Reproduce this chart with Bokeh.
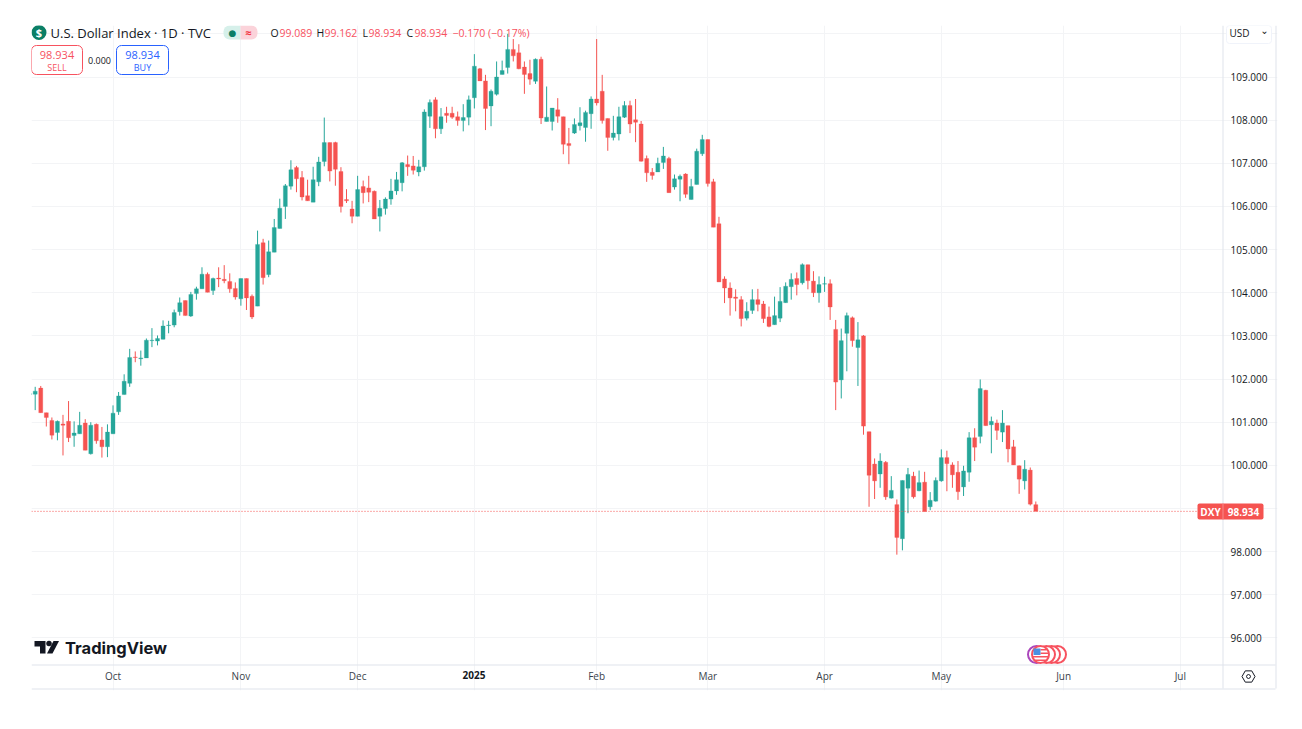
from bokeh.plotting import figure
from bokeh.embed import file_html
from bokeh.resources import INLINE
from bokeh.models import (Label, BoxAnnotation, PolyAnnotation, FixedTicker,
                          Grid, LinearAxis, ColumnDataSource, NumeralTickFormatter)
import math

opens = [101.63,101.65,101.79,101.22,101.04,100.76,100.96,101.02,100.69,100.73,
 100.98,100.27,100.95,100.59,100.43,100.73,101.24,101.64,101.90,102.51,
 102.47,102.49,102.89,102.88,102.92,103.24,103.25,103.56,103.82,103.46,
 103.98,104.09,104.43,104.05,104.34,104.31,104.26,104.10,103.86,104.33,
 103.92,103.69,105.16,104.42,104.94,105.49,106.00,106.47,106.90,106.67,
 106.25,106.10,106.57,107.04,107.48,107.48,106.81,106.16,105.94,105.77,
 106.46,106.43,106.35,105.77,105.95,106.17,106.36,106.55,106.97,106.94,
 106.80,106.92,108.09,108.47,107.80,108.16,108.16,108.08,107.99,108.07,
 108.52,109.19,108.91,108.33,108.60,109.06,109.22,109.64,109.56,109.23,
 109.08,108.90,109.41,107.97,107.97,108.24,108.08,107.46,107.70,107.87,
 107.83,108.15,108.49,108.67,108.04,107.60,107.68,108.07,108.34,108.01,
 107.91,107.11,106.79,106.80,107.02,107.11,106.45,106.63,106.75,106.16,
 106.51,107.22,107.55,106.57,105.60,104.32,104.11,103.90,103.84,103.41,
 103.59,103.84,103.74,103.44,103.26,103.41,103.77,104.14,104.33,104.23,
 104.65,104.27,104.00,104.20,104.21,103.15,101.98,103.06,103.42,102.73,
 103.00,100.78,100.03,99.80,100.07,99.24,99.09,98.30,99.47,99.75,
 99.41,99.61,99.04,99.17,99.64,100.18,100.01,99.84,99.50,99.84,
 100.64,100.67,101.74,100.94,100.98,100.77,100.92,100.43,99.99,99.64,
 99.89,99.089]
highs = [101.68,101.82,101.84,101.22,101.11,101.04,101.17,101.49,101.02,101.24,
 101.07,101.00,100.97,100.89,100.95,101.39,101.70,102.11,102.70,102.64,
 102.66,102.94,103.18,103.01,103.36,103.35,103.61,103.89,103.82,104.02,
 104.14,104.59,104.47,104.35,104.59,104.64,104.45,104.24,104.33,104.33,
 103.96,105.44,105.25,105.21,105.71,106.18,106.52,107.07,106.94,106.82,
 106.62,106.92,107.15,108.06,107.48,107.50,106.91,106.40,106.13,106.71,
 106.60,106.71,106.37,106.15,106.21,106.64,106.80,107.03,107.18,107.17,
 107.08,108.25,108.48,108.53,108.28,108.31,108.31,108.20,108.37,108.57,
 109.53,109.21,109.05,108.71,109.36,109.38,110.00,109.88,109.76,109.36,
 109.40,109.43,109.47,108.78,108.28,108.51,108.08,107.82,108.04,108.30,
 108.22,108.55,109.88,109.05,108.04,108.10,108.31,108.44,108.45,108.49,
 107.98,107.18,106.89,107.13,107.38,107.15,106.74,106.74,106.77,106.64,
 107.34,107.66,107.55,106.64,105.76,104.38,104.24,104.08,103.92,103.78,
 104.08,104.09,103.81,103.68,103.91,104.13,104.24,104.45,104.47,104.68,
 104.65,104.50,104.38,104.37,104.31,103.37,103.17,103.54,103.45,103.32,
 103.02,100.78,100.16,100.28,100.10,99.75,99.21,99.65,99.94,99.85,
 99.88,99.85,99.38,99.72,100.37,100.34,100.07,100.10,99.99,100.77,
 100.86,101.99,101.75,101.13,101.06,101.28,100.92,100.59,100.00,100.12,
 99.95,99.162]
lows = [101.60,101.28,101.22,100.90,100.60,100.58,100.23,100.54,100.43,100.73,
 100.35,100.25,100.50,100.18,100.19,100.73,101.17,101.64,101.82,102.39,
 102.31,102.49,102.74,102.78,102.92,103.06,103.20,103.47,103.47,103.44,
 103.84,104.09,104.01,103.95,104.13,104.22,104.00,103.84,103.70,103.60,
 103.39,103.69,104.19,104.36,104.94,105.49,105.71,106.39,106.33,106.14,
 106.13,106.10,106.47,106.93,106.58,106.48,105.86,106.08,105.61,105.77,
 106.07,106.10,105.71,105.42,105.81,106.04,106.27,106.35,106.71,106.74,
 106.70,106.83,107.82,107.58,107.68,107.94,108.03,107.87,107.74,107.88,
 108.27,108.91,107.77,107.86,108.57,109.06,109.08,109.36,109.18,108.61,
 108.82,108.84,107.91,107.97,107.76,107.94,107.21,106.98,107.68,107.76,
 107.50,107.80,108.34,107.92,107.29,107.53,107.53,108.05,107.70,107.49,
 107.04,106.57,106.62,106.80,106.87,106.32,106.39,106.12,106.20,106.16,
 106.51,107.17,106.46,105.52,104.25,103.76,103.47,103.57,103.22,103.36,
 103.51,103.57,103.30,103.20,103.26,103.32,103.77,103.84,103.94,104.19,
 104.08,103.90,103.77,104.02,103.37,101.28,101.55,102.18,102.75,101.84,
 100.71,99.04,99.22,99.48,99.20,99.23,97.93,98.03,98.89,99.23,
 99.40,98.93,98.96,99.16,99.62,99.40,99.48,99.20,99.29,99.62,
 100.10,100.51,100.92,100.28,100.59,100.54,100.07,100.01,99.34,99.44,
 99.07,98.934]
closes = [101.67,101.72,101.22,101.11,100.70,101.02,100.93,100.64,100.75,100.93,
 100.35,100.93,100.57,100.43,100.77,101.21,101.61,101.95,102.50,102.50,
 102.49,102.90,102.90,102.94,103.23,103.25,103.54,103.77,103.47,103.96,
 104.09,104.43,104.01,104.33,104.32,104.28,104.09,103.90,104.33,103.88,
 103.44,105.12,104.35,104.95,105.51,105.96,106.48,106.85,106.64,106.22,
 106.13,106.62,107.03,107.48,106.82,106.86,106.00,106.13,105.77,106.39,
 106.32,106.33,105.71,105.96,106.17,106.36,106.62,107.01,106.92,106.84,
 106.92,108.19,108.41,107.80,108.08,108.11,108.07,107.99,108.06,108.47,
 109.25,108.91,108.27,108.67,109.00,109.15,109.64,109.49,109.19,109.06,
 108.95,109.41,108.05,108.07,108.28,108.09,107.44,107.41,107.90,107.94,
 108.18,108.49,108.40,107.99,107.60,107.70,108.08,108.34,107.91,107.95,
 107.05,106.78,106.72,107.00,107.17,106.32,106.64,106.70,106.28,106.46,
 107.28,107.55,106.53,105.52,104.25,104.11,103.88,103.87,103.40,103.57,
 103.84,103.73,103.40,103.22,103.47,103.80,104.15,104.31,104.19,104.65,
 104.28,104.00,104.19,104.21,103.67,101.93,102.89,103.47,102.89,102.91,
 100.91,99.77,99.64,100.10,99.27,99.42,98.33,99.65,99.79,99.27,
 99.60,98.93,99.19,99.65,100.18,100.04,99.78,99.39,99.87,100.64,
 100.42,101.78,100.92,101.02,100.81,100.98,100.38,100.01,99.68,99.91,
 99.10,98.934]

month_labels = ["Oct", "Nov", "Dec", "Feb", "Mar", "Apr", "May", "Jun", "Jul"]
month_bars = [16, 39, 60, 103, 123, 144, 165, 187, 208]
year_label = "2025"
year_bar = 81
price_ticks = [96, 97, 98, 99, 100, 101, 102, 103, 104, 105, 106, 107, 108, 109]
grid_prices = price_ticks + [110]

GREEN, RED = "#26a69a", "#f55350"
INK, LINE, GRID = "#131722", "#e0e3eb", "#f3f4f6"
FONT = "Open Sans"


def X(px):
    return 2 + (px - 34.7) / 5.559


def Y(py):
    return 109 - (py - 76.5) / 43.15


# The frame runs over the whole chart area, price and time scales included,
# so that the chrome of the scales is not clipped.
p = figure(width=1294, height=721, x_range=(X(31), X(1277)), y_range=(Y(690), Y(25)),
           output_backend="svg", toolbar_location=None, x_axis_location=None,
           y_axis_location=None, min_border_left=31, min_border_right=17,
           min_border_top=25, min_border_bottom=31, outline_line_color=None,
           background_fill_color="white", border_fill_color="white")
p.grid.visible = False

# axes
ax_r = LinearAxis(ticker=FixedTicker(ticks=price_ticks), formatter=NumeralTickFormatter(format="0.000"),
                  axis_line_color=None, major_tick_line_color=None, minor_tick_line_color=None,
                  major_tick_out=0, major_tick_in=0, minor_tick_out=0, minor_tick_in=0,
                  major_label_text_font=FONT, major_label_text_font_size="10px",
                  major_label_text_color=INK, major_label_standoff=8, fixed_location=X(1222))
p.add_layout(ax_r, "right")
ax_b = LinearAxis(ticker=FixedTicker(ticks=month_bars),
                  major_label_overrides=dict(zip(month_bars, month_labels)),
                  axis_line_color=None, major_tick_line_color=None, minor_tick_line_color=None,
                  major_tick_out=0, major_tick_in=0, minor_tick_out=0, minor_tick_in=0,
                  major_label_text_font=FONT, major_label_text_font_size="10px",
                  major_label_text_color="#3a3f4b", major_label_standoff=4, fixed_location=Y(664))
p.add_layout(ax_b, "below")
p.add_layout(Grid(dimension=1, ticker=FixedTicker(ticks=grid_prices), grid_line_color=GRID,
                  level="underlay", bounds=(X(31), X(1222))))
p.add_layout(Grid(dimension=0, ticker=FixedTicker(ticks=sorted(month_bars + [year_bar])),
                  grid_line_color=GRID, level="underlay", bounds=(Y(664), Y(25))))

# candles
idx = list(range(1, len(opens) + 1))
cols = [GREEN if c > o else RED for o, c in zip(opens, closes)]
src = ColumnDataSource(dict(x=idx, o=opens, h=highs, l=lows, c=closes, color=cols))
p.segment("x", "h", "x", "l", source=src, color="color", line_width=1)
p.vbar("x", 0.72, "o", "c", source=src, fill_color="color", line_color="color", line_width=0.3)

# last price line
p.line([X(31), X(1197)], [closes[-1], closes[-1]], line_color=RED, line_width=1, line_dash=[1, 2])


def txt(text, px, py, size, color=INK, align="left", weight="normal", font=FONT):
    p.add_layout(Label(x=X(px), y=Y(py), text=text, text_font=font, text_font_size=f"{size}px",
                       text_color=color, text_align=align, text_baseline="middle",
                       text_font_style=weight))


def box(x0, y0, x1, y1, fill=None, line=None, radius=0, lw=1):
    p.add_layout(BoxAnnotation(left=X(x0), right=X(x1), top=Y(y0), bottom=Y(y1),
                               fill_color=fill if fill else "white", fill_alpha=1 if fill else 0,
                               line_color=line if line else "white", line_alpha=1 if line else 0,
                               line_width=lw, border_radius=radius))


# panel borders
box(1222, 25, 1223, 688, fill=LINE)
box(1275, 25, 1276, 688, fill=LINE)
box(31, 664, 1275, 665, fill=LINE)
box(31, 688, 1275, 689, fill=LINE)

# header
p.scatter([X(38.5)], [Y(32)], size=15, color="#0b7f66", line_width=0)
txt("$", 38.5, 32, 11, "white", "center", "bold")
txt("U.S. Dollar Index · 1D · TVC", 50, 32, 13)
box(223, 25, 240, 39, fill="#d6f0ea", radius=(6, 0, 0, 6))
box(240, 25, 257, 39, fill="#fbd3da", radius=(0, 6, 6, 0))
txt("●", 232, 32, 9, "#0b7f66", "center", font="DejaVu Sans")
txt("≈", 248, 32, 11, "#f23645", "center", "bold")
OHLC_RED = "#f7525f"
for t, x, c in [("O", 270, INK), ("99.089", 279, OHLC_RED), ("H", 316, INK), ("99.162", 324, OHLC_RED),
                ("L", 362, INK), ("98.934", 368, OHLC_RED), ("C", 406, INK), ("98.934", 414, OHLC_RED),
                ("−0.170 (−0.17%)", 452, OHLC_RED)]:
    txt(t, x, 32, 10.5, c)

box(31, 45, 82, 74, fill="white", line="#f7525f", radius=5)
box(116, 45, 168, 74, fill="white", line="#2962ff", radius=5)
txt("98.934", 56.5, 54.5, 11, "#f7525f", "center")
txt("SELL", 56.5, 66.5, 9, "#f7525f", "center")
txt("0.000", 99, 60, 9, INK, "center")
txt("98.934", 142, 54.5, 11, "#2962ff", "center")
txt("BUY", 142, 66.5, 9, "#2962ff", "center")

# currency button
box(1226, 25, 1271, 43, fill="white", line="#f0f3fa", radius=3)
txt("USD", 1229, 32, 10, INK)
txt("⌄", 1264, 30, 10, INK, "center", font="DejaVu Sans")

# price badge
box(1197, 503, 1263, 519, fill=RED, radius=2)
box(1222, 503, 1223, 519, fill="#f88a8a")
txt("DXY", 1210, 511, 10, "white", "center", "bold")
txt(f"{closes[-1]:.3f}", 1243, 511, 10, "white", "center", "bold")

# bold year label
txt(year_label, 473.5, 674.5, 10, INK, "center", "bold")

# settings icon
hx = [X(1248 + 6.5 * math.cos(math.radians(a))) for a in range(0, 360, 60)]
hy = [Y(676 + 6.5 * math.sin(math.radians(a))) for a in range(0, 360, 60)]
p.add_layout(PolyAnnotation(xs=hx, ys=hy, fill_alpha=0, line_color=INK, line_alpha=1, line_width=1))
cx = [X(1248 + 2 * math.cos(math.radians(a))) for a in range(0, 360, 45)]
cy = [Y(676 + 2 * math.sin(math.radians(a))) for a in range(0, 360, 45)]
p.add_layout(PolyAnnotation(xs=cx, ys=cy, fill_alpha=0, line_color=INK, line_alpha=1, line_width=1))


# TradingView logo
def poly(points, color):
    p.patch([X(a) for a, _ in points], [Y(b) for _, b in points], color=color, line_width=0)


poly([(34, 640.5), (45, 640.5), (45, 653), (39.5, 653), (39.5, 646), (34, 646)], INK)
poly([(53, 640.5), (58.5, 640.5), (52, 653), (46.5, 653)], INK)
p.scatter([X(48.5)], [Y(643)], size=5.5, color=INK, line_width=0)
txt("TradingView", 64.5, 647, 16.5, INK, weight="bold", font="Inter")

# event flags
p.scatter([X(1057), X(1051), X(1046)], [Y(654)] * 3, size=17, fill_color="white",
          line_color="#f7525f", line_width=2)
p.scatter([X(1036)], [Y(654)], size=17, fill_color="white", line_color="#ab47bc", line_width=2)
p.scatter([X(1040)], [Y(654)], size=17, fill_color="white", line_color="#f7525f", line_width=2)
p.quad(left=[X(1040), X(1040), X(1032.5), X(1034.5)], right=[X(1046), X(1048), X(1047.5), X(1045.5)],
       top=[Y(648.5), Y(652), Y(655.5), Y(659)], bottom=[Y(650), Y(653.5), Y(657), Y(660.5)],
       color="#f7525f", line_width=0)
p.quad(left=[X(1033)], right=[X(1040)], top=[Y(648)], bottom=[Y(654.5)], color="#4a90e2", line_width=0)

open("out.html", "w").write(file_html(p, INLINE))
